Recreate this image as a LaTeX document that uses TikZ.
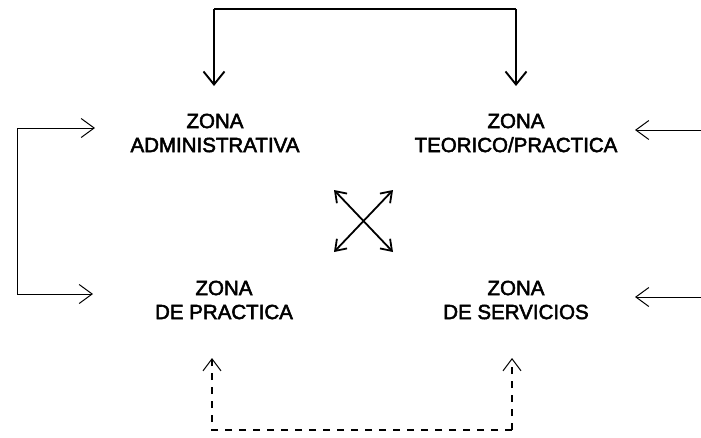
\documentclass[tikz,border=0pt]{standalone}
\usepackage{fontspec}
\setmainfont{Liberation Sans}
\newfontfamily\zoneface[FakeBold=2.5]{Liberation Sans}
\usetikzlibrary{arrows.meta}
\begin{document}
\begin{tikzpicture}[x=1pt,y=-1pt,
  zone/.style={align=center,font=\zoneface\fontsize{20.5}{24}\selectfont,inner sep=0pt},
  thickarr/.style={line width=1.9pt,-{Straight Barb[length=13pt,width=21pt,line width=1.9pt]}},
  thinarr/.style={line width=1pt,-{Straight Barb[length=13pt,width=19pt,line width=1pt]}},
  crossarr/.style={line width=1.8pt,{Straight Barb[length=10pt,width=14pt]}-{Straight Barb[length=10pt,width=14pt]}},
  dasharr/.style={line width=1.3pt,dash pattern=on 7pt off 7pt,-{Straight Barb[length=12pt,width=18pt,line width=1pt]}}]
\useasboundingbox (0,0) rectangle (701,437);
\node[zone] (adm) at (215,133) {ZONA\\ADMINISTRATIVA};
\node[zone] (teo) at (516,133) {ZONA\\TEORICO/PRACTICA};
\node[zone] (pra) at (224,300) {ZONA\\DE PRACTICA};
\node[zone] (ser) at (516,300) {ZONA\\DE SERVICIOS};
% top connector
\coordinate (admtop) at (214,86);
\coordinate (teotop) at (516,86);
\draw[thickarr] (teotop |- 0,9) -- (teotop);
\draw[thickarr] (admtop |- 0,9) -- (admtop);
\draw[line width=1.9pt] (admtop |- 0,9) -- (teotop |- 0,9);
% left bracket
\coordinate (admleft) at (95,128);
\coordinate (praleft) at (93,294);
\draw[thinarr] (17,128) -- (admleft);
\draw[thinarr] (17,128) |- (praleft);
% right arrows
\coordinate (teoright) at (635,130);
\coordinate (serright) at (635,297);
\draw[thinarr] (701,130) -- (teoright);
\draw[thinarr] (701,297) -- (serright);
% cross
\coordinate (c1) at (334,190);
\coordinate (c2) at (393,252);
\coordinate (c3) at (393,190);
\coordinate (c4) at (334,252);
\draw[crossarr] (c1) -- (c2);
\draw[crossarr] (c3) -- (c4);
% bottom dashed
\coordinate (prabot) at (212,358);
\coordinate (serbot) at (512,358);
\draw[dasharr] (512,430) -- (serbot);
\draw[dasharr] (512,430) -| (prabot);
\end{tikzpicture}
\end{document}
